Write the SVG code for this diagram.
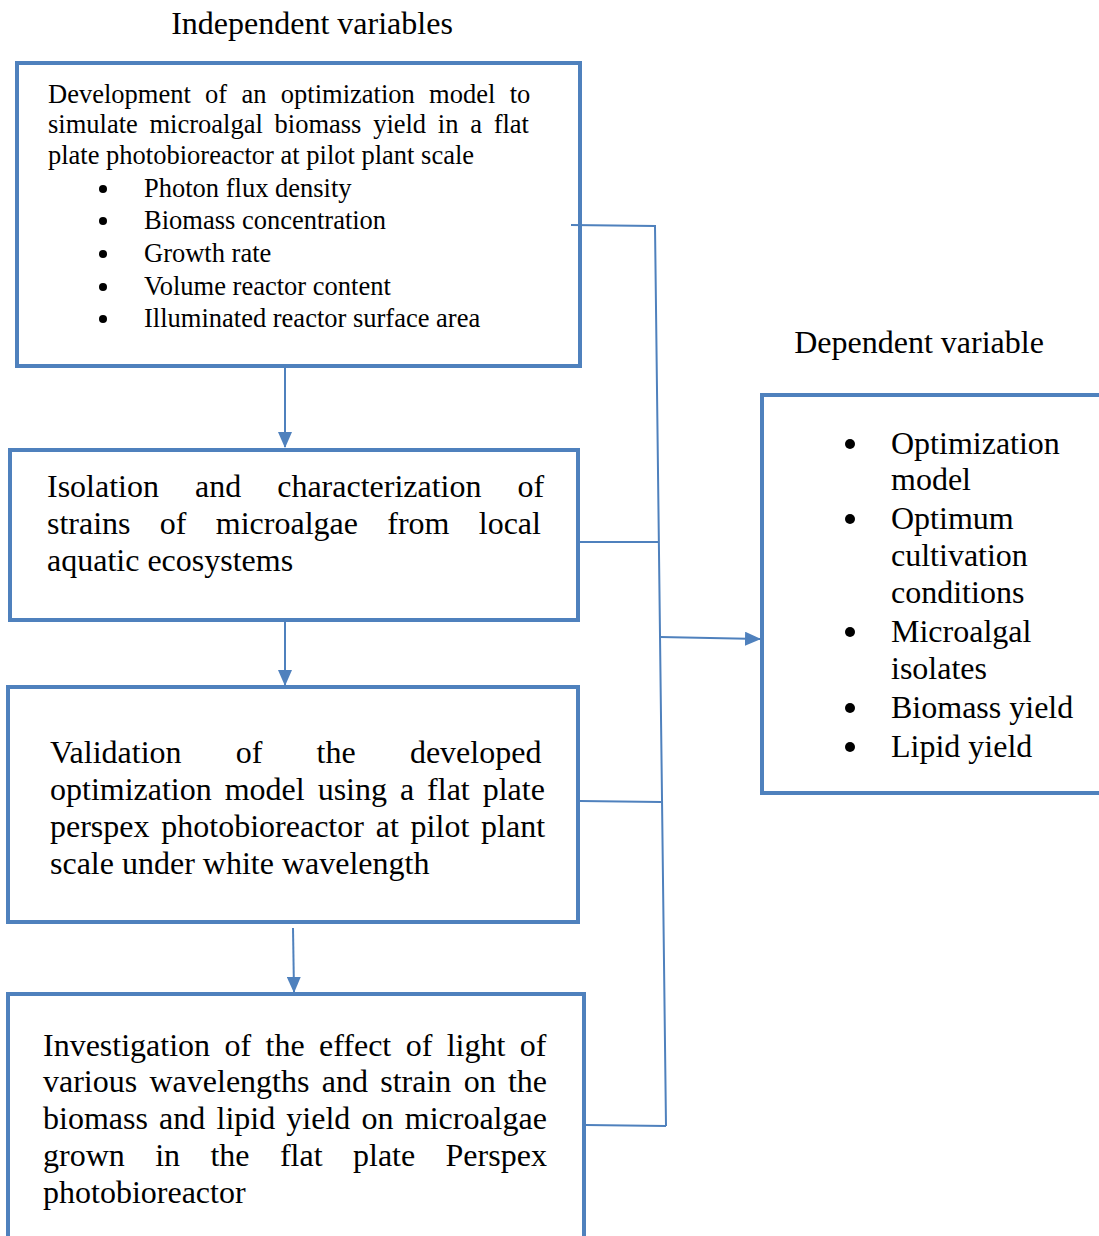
<svg xmlns="http://www.w3.org/2000/svg" width="1099" height="1236" viewBox="0 0 1099 1236">
<defs>
<style>
.box{fill:#fff;stroke:#4f81bd;stroke-width:4}
.ln{fill:none;stroke:#4f81bd;stroke-width:2}
text{font-family:"Liberation Serif","Times New Roman",serif;fill:#000}
.s{font-size:26.5px}
.m{font-size:32px}
.b{fill:#000}
</style>
<marker id="ah2" markerWidth="16" markerHeight="14" refX="15" refY="7" orient="auto" markerUnits="userSpaceOnUse">
<path d="M0,0 L16,7 L0,14 z" fill="#4f81bd"/>
</marker>
</defs>
<rect width="1099" height="1236" fill="#fff"/>
<text class="m" x="312" y="34" text-anchor="middle">Independent variables</text>
<text class="m" x="919" y="353" text-anchor="middle">Dependent variable</text>

<g id="node1">
<rect class="box" x="17" y="63" width="563" height="303"/>
<text class="s" x="48" y="103" word-spacing="7.7">Development of an optimization model to</text>
<text class="s" x="48" y="133" word-spacing="5.1">simulate microalgal biomass yield in a flat</text>
<text class="s" x="48" y="164">plate photobioreactor at pilot plant scale</text>
<circle class="b" cx="103" cy="189" r="4"/><text class="s" x="144" y="197">Photon flux density</text>
<circle class="b" cx="103" cy="221" r="4"/><text class="s" x="144" y="229">Biomass concentration</text>
<circle class="b" cx="103" cy="254" r="4"/><text class="s" x="144" y="262">Growth rate</text>
<circle class="b" cx="103" cy="287" r="4"/><text class="s" x="144" y="295">Volume reactor content</text>
<circle class="b" cx="103" cy="319" r="4"/><text class="s" x="144" y="327">Illuminated reactor surface area</text>
</g>

<g id="node2">
<rect class="box" x="10" y="450" width="568" height="170"/>
<text class="m" x="47" y="497" word-spacing="28">Isolation and characterization of</text>
<text class="m" x="47" y="534" word-spacing="21.3">strains of microalgae from local</text>
<text class="m" x="47" y="571">aquatic ecosystems</text>
</g>

<g id="node3">
<rect class="box" x="8" y="687" width="570" height="235"/>
<text class="m" x="50" y="763" word-spacing="46.2">Validation of the developed</text>
<text class="m" x="50" y="800" word-spacing="4.96">optimization model using a flat plate</text>
<text class="m" x="50" y="837" word-spacing="3.8">perspex photobioreactor at pilot plant</text>
<text class="m" x="50" y="874">scale under white wavelength</text>
</g>

<g id="node4">
<rect class="box" x="8" y="994" width="576" height="260"/>
<text class="m" x="43" y="1056" word-spacing="6.4">Investigation of the effect of light of</text>
<text class="m" x="43" y="1092" word-spacing="4.3">various wavelengths and strain on the</text>
<text class="m" x="43" y="1129" word-spacing="3.2">biomass and lipid yield on microalgae</text>
<text class="m" x="43" y="1166" word-spacing="22.4">grown in the flat plate Perspex</text>
<text class="m" x="43" y="1203">photobioreactor</text>
</g>

<g id="node5">
<rect class="box" x="762" y="395" width="350" height="398"/>
<circle class="b" cx="850" cy="444" r="5"/><text class="m" x="891" y="454">Optimization</text>
<text class="m" x="891" y="490">model</text>
<circle class="b" cx="850" cy="519" r="5"/><text class="m" x="891" y="529">Optimum</text>
<text class="m" x="891" y="566">cultivation</text>
<text class="m" x="891" y="603">conditions</text>
<circle class="b" cx="850" cy="632" r="5"/><text class="m" x="891" y="642">Microalgal</text>
<text class="m" x="891" y="679">isolates</text>
<circle class="b" cx="850" cy="708" r="5"/><text class="m" x="891" y="718">Biomass yield</text>
<circle class="b" cx="850" cy="747" r="5"/><text class="m" x="891" y="757">Lipid yield</text>
</g>

<g id="connectors">
<line class="ln" x1="285" y1="368" x2="285" y2="447" marker-end="url(#ah2)"/>
<line class="ln" x1="285" y1="622" x2="285" y2="685" marker-end="url(#ah2)"/>
<line class="ln" x1="293" y1="928" x2="294" y2="992" marker-end="url(#ah2)"/>
<path class="ln" d="M571,225 L655,226 L666,1126"/>
<line class="ln" x1="580" y1="542" x2="658" y2="542"/>
<line class="ln" x1="580" y1="801" x2="661" y2="802"/>
<line class="ln" x1="586" y1="1125" x2="666" y2="1126"/>
<line class="ln" x1="660" y1="637" x2="760" y2="639" marker-end="url(#ah2)"/>
</g>
</svg>
